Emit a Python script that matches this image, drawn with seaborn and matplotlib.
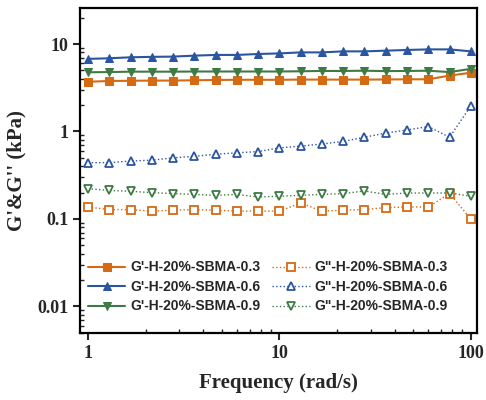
import matplotlib
matplotlib.use('Agg')
import matplotlib.pyplot as plt
import seaborn as sns
import numpy as np
import pandas as pd
from matplotlib.ticker import LogLocator, NullFormatter, FixedLocator, FixedFormatter

# angular frequency (rad/s), 9 points per decade
freq = [1.0, 1.29, 1.67, 2.15, 2.78, 3.59, 4.64, 5.99, 7.74, 10.0,
        12.9, 16.7, 21.5, 27.8, 35.9, 46.4, 59.9, 77.4, 100.0]

g1_03 = [3.70, 3.78, 3.80, 3.82, 3.82, 3.85, 3.88, 3.90, 3.90, 3.90,
         3.92, 3.92, 3.92, 3.92, 3.93, 3.95, 3.95, 4.35, 4.70]
g1_06 = [6.76, 6.87, 7.05, 7.13, 7.18, 7.36, 7.50, 7.50, 7.69, 7.81,
         8.02, 8.02, 8.24, 8.24, 8.39, 8.55, 8.68, 8.68, 8.24]
g1_09 = [4.75, 4.78, 4.83, 4.83, 4.83, 4.85, 4.85, 4.85, 4.85, 4.85,
         4.88, 4.92, 4.92, 4.95, 4.90, 4.92, 4.95, 4.78, 5.20]
g2_03 = [0.137, 0.128, 0.128, 0.123, 0.126, 0.128, 0.126, 0.123, 0.123, 0.123,
         0.152, 0.123, 0.126, 0.128, 0.135, 0.137, 0.137, 0.195, 0.100]
g2_06 = [0.44, 0.44, 0.46, 0.47, 0.50, 0.52, 0.55, 0.57, 0.59, 0.65,
         0.68, 0.72, 0.77, 0.86, 0.96, 1.04, 1.14, 0.86, 1.96]
g2_09 = [0.222, 0.212, 0.207, 0.200, 0.195, 0.191, 0.186, 0.191, 0.178, 0.182,
         0.186, 0.191, 0.195, 0.209, 0.191, 0.198, 0.198, 0.198, 0.182]

orange = '#D56A14'
blue = '#2C55A0'
green = '#3F7A45'

series = [
    ("G'-H-20%-SBMA-0.3", g1_03, orange, 's', True),
    ("G'-H-20%-SBMA-0.6", g1_06, blue, '^', True),
    ("G'-H-20%-SBMA-0.9", g1_09, green, 'v', True),
    ('G"-H-20%-SBMA-0.3', g2_03, orange, 's', False),
    ('G"-H-20%-SBMA-0.6', g2_06, blue, '^', False),
    ('G"-H-20%-SBMA-0.9', g2_09, green, 'v', False),
]

sns.set_style('ticks')
fig, ax = plt.subplots(figsize=(4.86, 4.0), dpi=100)
fig.subplots_adjust(left=0.165, right=0.982, bottom=0.168, top=0.98)

for name, vals, col, mk, filled in series:
    df = pd.DataFrame({'freq': freq, 'val': vals})
    if filled:
        sns.lineplot(data=df, x='freq', y='val', ax=ax, color=col, marker=mk,
                     markersize=5.5, markerfacecolor=col, markeredgecolor=col,
                     linewidth=1.5, linestyle='-', label=name)
    else:
        sns.lineplot(data=df, x='freq', y='val', ax=ax, color=col, marker=mk,
                     markersize=6, markerfacecolor='white', markeredgecolor=col,
                     markeredgewidth=1.3, linewidth=1.0, linestyle=':', label=name)

ax.set_xscale('log')
ax.set_yscale('log')
ax.set_xlim(0.91, 108)
ax.set_ylim(0.005, 25.8)

ax.xaxis.set_major_locator(FixedLocator([1, 10, 100]))
ax.xaxis.set_major_formatter(FixedFormatter(['1', '10', '100']))
ax.xaxis.set_minor_locator(LogLocator(base=10, subs=np.arange(2, 10)))
ax.xaxis.set_minor_formatter(NullFormatter())
ax.yaxis.set_major_locator(FixedLocator([0.01, 0.1, 1, 10]))
ax.yaxis.set_major_formatter(FixedFormatter(['0.01', '0.1', '1', '10']))
ax.yaxis.set_minor_locator(LogLocator(base=10, subs=np.arange(2, 10)))
ax.yaxis.set_minor_formatter(NullFormatter())

ax.tick_params(which='major', direction='out', length=5, width=1.5)
ax.tick_params(which='minor', direction='in', length=3, width=1.0)
for s in ax.spines.values():
    s.set_linewidth(1.6)
    s.set_color('black')

serif = {'family': 'Liberation Serif', 'weight': 'bold'}
for lab in ax.get_xticklabels() + ax.get_yticklabels():
    lab.set_fontfamily('Liberation Serif')
    lab.set_fontweight('bold')
    lab.set_fontsize(13)
ax.set_xlabel('Frequency (rad/s)', fontdict=serif, fontsize=15, labelpad=8)
ax.set_ylabel("G'&G'' (kPa)", fontdict=serif, fontsize=15, labelpad=8)

leg = ax.legend(loc='lower left', bbox_to_anchor=(-0.012, 0.021), ncol=2,
                frameon=False, handlelength=2.7, handletextpad=0.35,
                columnspacing=0.85, labelspacing=0.4,
                prop={'family': 'Liberation Sans', 'weight': 'bold', 'size': 10})

fig.savefig('out.png', dpi=100)
